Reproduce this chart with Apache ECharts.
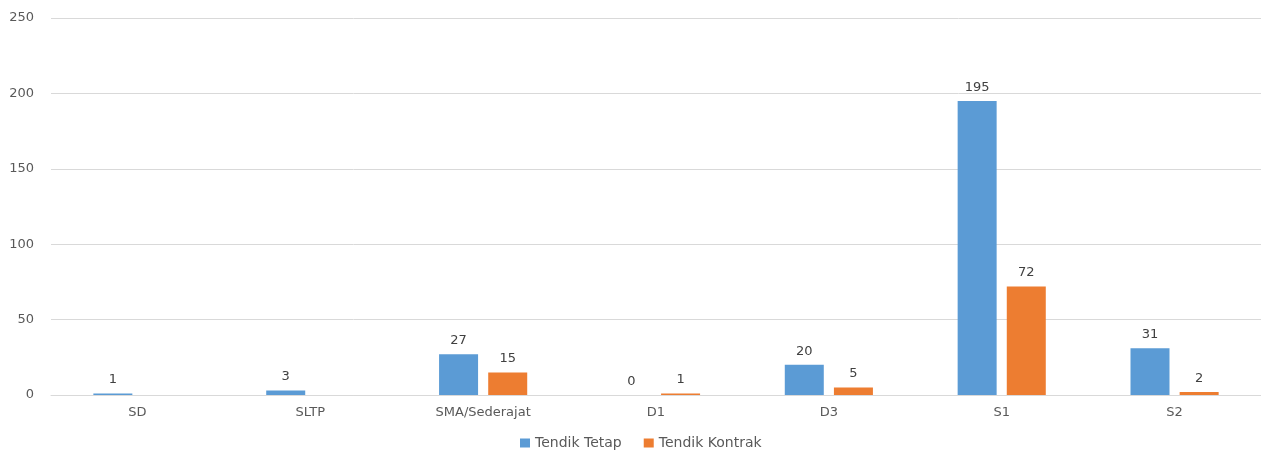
<!DOCTYPE html>
<html><head><meta charset="utf-8">
<script src="https://cdn.jsdelivr.net/npm/echarts@6/dist/echarts.min.js"></script>
<style>html,body{margin:0;padding:0;background:#fff}#c{width:1261px;height:451px}</style>
</head><body><div id="c"></div>
<script>
const categories = ['SD','SLTP','SMA/Sederajat','D1','D3','S1','S2'];
const tendikTetap = [1,3,27,0,20,195,31];
const tendikKontrak = [null,null,15,1,5,72,2];
const yTicks = {min:0,max:250,interval:50};
const font = 'DejaVu Sans';
const chart = echarts.init(document.getElementById('c'));
const lbl = {show:true,position:'top',color:'#404040',fontFamily:font,fontSize:13,distance:7};
chart.setOption({
  animation:false,
  textStyle:{fontFamily:font},
  grid:{left:51,right:-6,top:18,bottom:56},
  legend:{top:431,left:515,itemWidth:10,itemHeight:9,itemGap:22,icon:'rect',
    textStyle:{color:'#595959',fontFamily:font,fontSize:14},
    data:['Tendik Tetap','Tendik Kontrak']},
  xAxis:{type:'category',data:categories,
    axisLine:{lineStyle:{color:'#d9d9d9'}},axisTick:{show:false},
    axisLabel:{color:'#595959',fontFamily:font,fontSize:13,margin:11}},
  yAxis:{type:'value',min:yTicks.min,max:yTicks.max,interval:yTicks.interval,
    axisLine:{show:false},axisTick:{show:false},
    splitLine:{lineStyle:{color:'#d9d9d9'}},
    axisLabel:{color:'#595959',fontFamily:font,fontSize:13,margin:17}},
  series:[
    {name:'Tendik Tetap',type:'bar',data:tendikTetap,barWidth:39,barGap:'26%',
     itemStyle:{color:'#5B9BD5'},label:lbl},
    {name:'Tendik Kontrak',type:'bar',data:tendikKontrak,barWidth:39,
     itemStyle:{color:'#ED7D31'},label:lbl}
  ]
});
</script></body></html>
